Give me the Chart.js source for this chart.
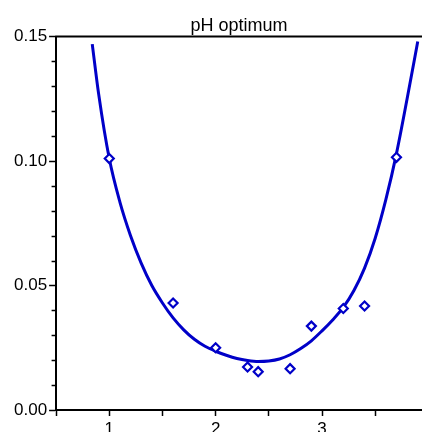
<!DOCTYPE html>
<html>
<head>
<meta charset="utf-8">
<title>pH optimum</title>
<script src="https://cdn.jsdelivr.net/npm/chart.js@4"></script>
<style>
  html, body { margin: 0; padding: 0; background: #fff; overflow: hidden; }
  #wrap { width: 422px; height: 448px; }
</style>
</head>
<body>
<div id="wrap"><canvas id="id-ph-chart"></canvas></div>
<script>
// measured points (pH, activity)
const measured_x = [1.0, 1.6, 2.0, 2.3, 2.4, 2.7, 2.9, 3.2, 3.4, 3.7];
const measured_y = [0.101, 0.043, 0.025, 0.0173, 0.0154, 0.0166, 0.0337, 0.0408, 0.0418, 0.1015];

// fitted curve
const fit_x = [0.84, 0.9, 1.0, 1.1, 1.2, 1.3, 1.4, 1.5, 1.6, 1.7, 1.8, 1.9, 2.0, 2.1, 2.2, 2.3, 2.4, 2.5, 2.6, 2.7, 2.8, 2.9, 3.0, 3.1, 3.2, 3.3, 3.4, 3.5, 3.6, 3.7, 3.8, 3.9];
const fit_y = [0.147, 0.127, 0.101, 0.0835, 0.0700, 0.0590, 0.0500, 0.0430, 0.0370, 0.0322, 0.0284, 0.0256, 0.0236, 0.0220, 0.0207, 0.0199, 0.0195, 0.0197, 0.0205, 0.0222, 0.0247, 0.0278, 0.0318, 0.0362, 0.0412, 0.0480, 0.0570, 0.0690, 0.0845, 0.1030, 0.1250, 0.1480];

const x_range = [0.5, 3.94];
const y_range = [0, 0.15];
const y_major_step = 0.05;
const y_minor_step = 0.01;
const x_step = 0.5;

const BLUE = 'rgb(0, 0, 200)';
const FONT = '"Liberation Sans", Arial, sans-serif';

function IsMajor(value, step)
{
  const r = value / step;
  return Math.abs(r - Math.round(r)) < 1e-6;
}

// short minor ticks on y axis + frame line on top
const frame_plugin =
{
  id: 'frame',
  afterDraw(chart)
  {
    const ctx = chart.ctx;
    const area = chart.chartArea;
    const y = chart.scales.y;

    ctx.save();
    ctx.strokeStyle = '#000';
    ctx.lineWidth = 1.5;
    ctx.beginPath();
    y.ticks.forEach(t =>
    {
      if (IsMajor(t.value, y_major_step))
        return;
      const py = Math.round(y.getPixelForValue(t.value)) + 0.5;
      ctx.moveTo(area.left - 4.5, py);
      ctx.lineTo(area.left, py);
    });
    ctx.stroke();

    ctx.lineWidth = 2;
    ctx.beginPath();
    ctx.moveTo(area.left - 1, area.top);
    ctx.lineTo(area.right, area.top);
    ctx.stroke();
    ctx.restore();
  }
};

document.addEventListener("DOMContentLoaded", function()
{
  const data_ph =
  {
    datasets:
    [
      {
        type: 'scatter',
        label: 'Measured',
        data: measured_x.map((x, i) => ({ x: x, y: measured_y[i] })),
        pointStyle: 'rectRot',
        pointRadius: 4.5,
        pointBorderWidth: 2.2,
        pointBorderColor: BLUE,
        pointBackgroundColor: '#fff',
        showLine: false
      },
      {
        type: 'line',
        label: 'Fit',
        data: fit_x.map((x, i) => ({ x: x, y: fit_y[i] })),
        borderColor: BLUE,
        borderWidth: 3,
        pointRadius: 0,
        fill: false,
        cubicInterpolationMode: 'monotone',
        clip: false
      }
    ]
  };

  const config_ph =
  {
    data: data_ph,
    plugins: [frame_plugin],
    options:
    {
      animation: false,
      responsive: true,
      maintainAspectRatio: false,
      layout: { autoPadding: false, padding: { left: 12, right: 0, top: 0, bottom: 4.6 } },
      plugins:
      {
        legend: { display: false },
        tooltip: { enabled: false },
        title:
        {
          display: true,
          text: 'pH optimum',
          color: '#000',
          fullSize: false,
          font: { family: FONT, size: 18, weight: 'normal' },
          padding: { top: 15, bottom: 0 }
        }
      },
      scales:
      {
        x:
        {
          type: 'linear',
          min: x_range[0],
          max: x_range[1],
          border: { color: '#000', width: 2 },
          grid: { drawOnChartArea: false, tickLength: 6, tickColor: '#000', tickWidth: 1.5 },
          ticks:
          {
            stepSize: x_step,
            includeBounds: false,
            autoSkip: false,
            maxRotation: 0,
            padding: 3.5,
            color: '#000',
            font: { family: FONT, size: 17 },
            callback: value => Number.isInteger(value) ? String(value) : ''
          }
        },
        y:
        {
          type: 'linear',
          min: y_range[0],
          max: y_range[1],
          border: { color: '#000', width: 2 },
          grid:
          {
            drawOnChartArea: false,
            tickLength: 7,
            tickWidth: 1.5,
            tickColor: c => IsMajor(c.tick.value, y_major_step) ? '#000' : 'rgba(0,0,0,0)'
          },
          ticks:
          {
            stepSize: y_minor_step,
            autoSkip: false,
            padding: 2,
            color: '#000',
            font: { family: FONT, size: 17 },
            callback: value => IsMajor(value, y_major_step) ? value.toFixed(2) : ''
          }
        }
      }
    }
  };

  const ctx = document.getElementById('id-ph-chart').getContext('2d');
  new Chart(ctx, config_ph);
});
</script>
</body>
</html>
